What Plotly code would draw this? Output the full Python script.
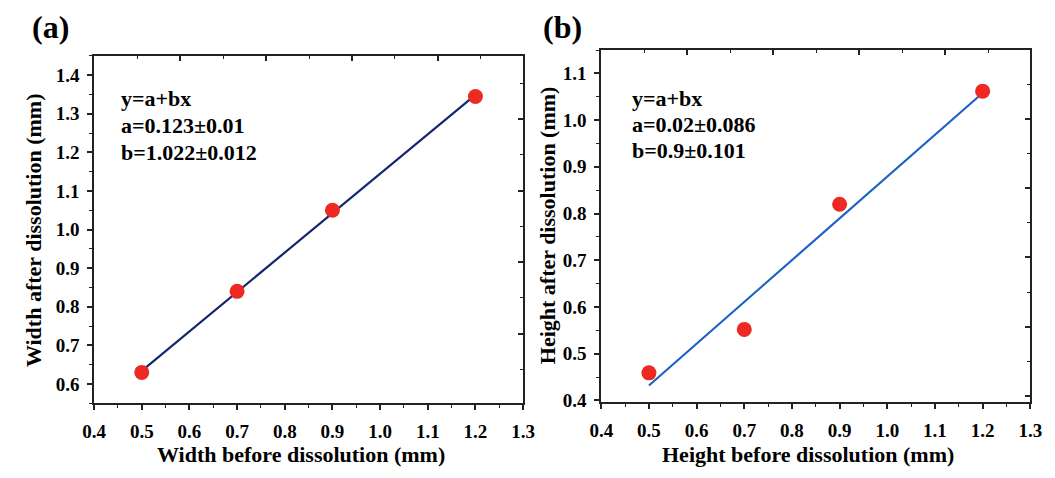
import plotly.graph_objects as go

# ---- data ----
width_before = [0.5, 0.7, 0.9, 1.2]
width_after = [0.63, 0.84, 1.05, 1.345]
width_fit_x = [0.5, 1.2]
width_fit_y = [0.634, 1.349]

height_before = [0.5, 0.7, 0.9, 1.2]
height_after = [0.459, 0.552, 0.82, 1.062]
height_fit_x = [0.5, 1.2]
height_fit_y = [0.432, 1.058]

x_ticks = [0.4, 0.5, 0.6, 0.7, 0.8, 0.9, 1.0, 1.1, 1.2, 1.3]
eq_a = ["y=a+bx", "a=0.123±0.01", "b=1.022±0.012"]
eq_b = ["y=a+bx", "a=0.02±0.086", "b=0.9±0.101"]

W, H = 1055, 478
FONT = "Liberation Serif"
MARK = "#ec2a22"

def px(x):
    return x / W

def py(y):
    return 1 - y / H

fig = go.Figure()
fig.add_trace(go.Scatter(x=width_fit_x, y=width_fit_y, mode="lines",
                         line=dict(color="#16266e", width=2.2), xaxis="x", yaxis="y", showlegend=False))
fig.add_trace(go.Scatter(x=width_before, y=width_after, mode="markers",
                         marker=dict(color=MARK, size=15), xaxis="x", yaxis="y", showlegend=False))
fig.add_trace(go.Scatter(x=height_fit_x, y=height_fit_y, mode="lines",
                         line=dict(color="#1e62c4", width=2.2), xaxis="x2", yaxis="y2", showlegend=False))
fig.add_trace(go.Scatter(x=height_before, y=height_after, mode="markers",
                         marker=dict(color=MARK, size=15), xaxis="x2", yaxis="y2", showlegend=False))

tickfont = dict(family=FONT, size=19, color="black", weight=700)

def main_axis(domain, rng, dtick, anchor, minor_dtick, standoff):
    return dict(domain=domain, range=rng, dtick=dtick, tick0=0, anchor=anchor,
                showgrid=False, zeroline=False, showline=True, linecolor="#222", linewidth=1.8,
                ticks="outside", ticklen=5, tickwidth=1.5, tickcolor="#222",
                minor=dict(ticks="outside", ticklen=3, tickwidth=1.2, tickcolor="#222", dtick=minor_dtick),
                tickfont=tickfont, tickformat=".1f", mirror=False, ticklabelstandoff=standoff)

def mirror_axis(domain, rng, anchor, side, overlaying):
    return dict(domain=domain, range=rng, dtick=1, tick0=0, anchor=anchor, side=side, overlaying=overlaying,
                showgrid=False, zeroline=False, showline=True, linecolor="#222", linewidth=1.8,
                ticks="inside", ticklen=5, tickwidth=1.5, tickcolor="#222", showticklabels=False,
                minor=dict(ticks="inside", ticklen=3, tickwidth=1.2, tickcolor="#222", dtick=0.5))

xa_dom = [px(84), px(523)]
ya_dom = [py(411), py(57)]
xb_dom = [px(603), px(1042)]
yb_dom = [py(410), py(51)]

fig.update_layout(
    width=W, height=H, margin=dict(l=0, r=0, t=0, b=0),
    plot_bgcolor="white", paper_bgcolor="white",
    xaxis=main_axis(xa_dom, [0.4, 1.3], 0.1, "y", 0.05, 5),
    yaxis=main_axis(ya_dom, [0.55, 1.45], 0.1, "x", 0.05, 4),
    xaxis2=main_axis(xb_dom, [0.4, 1.3], 0.1, "y2", 0.05, 5),
    yaxis2=main_axis(yb_dom, [0.396, 1.15], 0.1, "x2", 0.05, 4),
    xaxis3=mirror_axis(xa_dom, [0, 4.99], "y", "top", "x"),
    yaxis3=mirror_axis(ya_dom, [0.03, 4.88], "x", "right", "y"),
    xaxis4=mirror_axis(xb_dom, [0, 4.99], "y2", "top", "x2"),
    yaxis4=mirror_axis(yb_dom, [-0.09, 4.99], "x2", "right", "y2"),
)
fig.layout.xaxis.tickvals = x_ticks
fig.layout.xaxis2.tickvals = x_ticks

# dummy traces to activate mirror axes
fig.add_trace(go.Scatter(x=[None], y=[None], xaxis="x3", yaxis="y3", showlegend=False, hoverinfo="skip"))
fig.add_trace(go.Scatter(x=[None], y=[None], xaxis="x4", yaxis="y4", showlegend=False, hoverinfo="skip"))

ann = []
titlefont = dict(family=FONT, size=22, color="black", weight="bold")

def add(text, x, y, font, xanchor="center", yanchor="middle", angle=0):
    ann.append(dict(text=text, x=px(x), y=py(y), xref="paper", yref="paper", xanchor=xanchor,
                    yanchor=yanchor, showarrow=False, font=font, textangle=angle))

add("Width before dissolution (mm)", 296, 463, titlefont)
add("Width after dissolution (mm)", 22, 234, titlefont, angle=-90)
add("Height before dissolution (mm)", 815, 463, titlefont)
add("Height after dissolution (mm)", 548, 230, titlefont, angle=-90)
labfont = dict(family=FONT, size=32, color="black", weight="bold")
add("(a)", 18, 28, labfont, xanchor="left")
add("(b)", 541, 28, labfont, xanchor="left")
eqfont = dict(family=FONT, size=22, color="black", weight="bold")
for i, t in enumerate(eq_a):
    add(t, 110, 100 + 27.5 * i, eqfont, xanchor="left")
for i, t in enumerate(eq_b):
    add(t, 632, 100 + 26.5 * i, eqfont, xanchor="left")
fig.update_layout(annotations=ann)

fig.write_html("out.html", config={"displayModeBar": False},
               post_script="document.body.style.margin='0';document.body.style.overflow='hidden';")
